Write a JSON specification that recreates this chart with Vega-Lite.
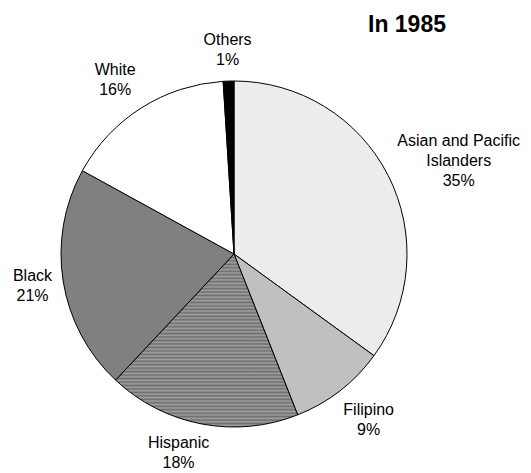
{
  "$schema": "https://vega.github.io/schema/vega-lite/v6.json",
  "autosize": "none",
  "padding": {"left": 0, "top": 40, "right": 63, "bottom": 5},
  "width": 468,
  "height": 428,
  "background": "white",
  "title": {"text": "In 1985", "anchor": "start", "frame": "group", "dx": 368, "dy": 34, "fontSize": 23, "fontWeight": "bold", "font": "Liberation Sans", "color": "black", "offset": 0, "baseline": "alphabetic"},
  "config": {"view": {"stroke": null}},
  "data": {"values": [
    {"group": "Asian and Pacific Islanders", "value": 35, "rank": 1, "label": "Asian and Pacific\nIslanders\n35%"},
    {"group": "Filipino", "value": 9, "rank": 2, "label": "Filipino\n9%"},
    {"group": "Hispanic", "value": 18, "rank": 3, "label": "Hispanic\n18%"},
    {"group": "Black", "value": 21, "rank": 4, "label": "Black\n21%"},
    {"group": "White", "value": 16, "rank": 5, "label": "White\n16%"},
    {"group": "Others", "value": 1, "rank": 6, "label": "Others\n1%"}
  ]},
  "encoding": {
    "theta": {"field": "value", "type": "quantitative", "stack": true},
    "order": {"field": "rank", "type": "quantitative"}
  },
  "layer": [
    {
      "mark": {"type": "arc", "radius": 173, "stroke": "black", "strokeWidth": 1},
      "encoding": {
        "fill": {
          "condition": {"test": "datum.group === 'Hispanic'", "value": {"gradient": "linear", "x1": 0, "y1": 0, "x2": 0, "y2": 1, "stops": [
            {"offset": 0.00, "color": "#6e6e6e"}, {"offset": 0.01, "color": "#a0a0a0"}, {"offset": 0.02, "color": "#6e6e6e"}, {"offset": 0.03, "color": "#a0a0a0"}, {"offset": 0.04, "color": "#6e6e6e"}, {"offset": 0.05, "color": "#a0a0a0"}, {"offset": 0.06, "color": "#6e6e6e"}, {"offset": 0.07, "color": "#a0a0a0"}, {"offset": 0.08, "color": "#6e6e6e"}, {"offset": 0.09, "color": "#a0a0a0"},
            {"offset": 0.10, "color": "#6e6e6e"}, {"offset": 0.11, "color": "#a0a0a0"}, {"offset": 0.12, "color": "#6e6e6e"}, {"offset": 0.13, "color": "#a0a0a0"}, {"offset": 0.14, "color": "#6e6e6e"}, {"offset": 0.15, "color": "#a0a0a0"}, {"offset": 0.16, "color": "#6e6e6e"}, {"offset": 0.17, "color": "#a0a0a0"}, {"offset": 0.18, "color": "#6e6e6e"}, {"offset": 0.19, "color": "#a0a0a0"},
            {"offset": 0.20, "color": "#6e6e6e"}, {"offset": 0.21, "color": "#a0a0a0"}, {"offset": 0.22, "color": "#6e6e6e"}, {"offset": 0.23, "color": "#a0a0a0"}, {"offset": 0.24, "color": "#6e6e6e"}, {"offset": 0.25, "color": "#a0a0a0"}, {"offset": 0.26, "color": "#6e6e6e"}, {"offset": 0.27, "color": "#a0a0a0"}, {"offset": 0.28, "color": "#6e6e6e"}, {"offset": 0.29, "color": "#a0a0a0"},
            {"offset": 0.30, "color": "#6e6e6e"}, {"offset": 0.31, "color": "#a0a0a0"}, {"offset": 0.32, "color": "#6e6e6e"}, {"offset": 0.33, "color": "#a0a0a0"}, {"offset": 0.34, "color": "#6e6e6e"}, {"offset": 0.35, "color": "#a0a0a0"}, {"offset": 0.36, "color": "#6e6e6e"}, {"offset": 0.37, "color": "#a0a0a0"}, {"offset": 0.38, "color": "#6e6e6e"}, {"offset": 0.39, "color": "#a0a0a0"},
            {"offset": 0.40, "color": "#6e6e6e"}, {"offset": 0.41, "color": "#a0a0a0"}, {"offset": 0.42, "color": "#6e6e6e"}, {"offset": 0.43, "color": "#a0a0a0"}, {"offset": 0.44, "color": "#6e6e6e"}, {"offset": 0.45, "color": "#a0a0a0"}, {"offset": 0.46, "color": "#6e6e6e"}, {"offset": 0.47, "color": "#a0a0a0"}, {"offset": 0.48, "color": "#6e6e6e"}, {"offset": 0.49, "color": "#a0a0a0"},
            {"offset": 0.50, "color": "#6e6e6e"}, {"offset": 0.51, "color": "#a0a0a0"}, {"offset": 0.52, "color": "#6e6e6e"}, {"offset": 0.53, "color": "#a0a0a0"}, {"offset": 0.54, "color": "#6e6e6e"}, {"offset": 0.55, "color": "#a0a0a0"}, {"offset": 0.56, "color": "#6e6e6e"}, {"offset": 0.57, "color": "#a0a0a0"}, {"offset": 0.58, "color": "#6e6e6e"}, {"offset": 0.59, "color": "#a0a0a0"},
            {"offset": 0.60, "color": "#6e6e6e"}, {"offset": 0.61, "color": "#a0a0a0"}, {"offset": 0.62, "color": "#6e6e6e"}, {"offset": 0.63, "color": "#a0a0a0"}, {"offset": 0.64, "color": "#6e6e6e"}, {"offset": 0.65, "color": "#a0a0a0"}, {"offset": 0.66, "color": "#6e6e6e"}, {"offset": 0.67, "color": "#a0a0a0"}, {"offset": 0.68, "color": "#6e6e6e"}, {"offset": 0.69, "color": "#a0a0a0"},
            {"offset": 0.70, "color": "#6e6e6e"}, {"offset": 0.71, "color": "#a0a0a0"}, {"offset": 0.72, "color": "#6e6e6e"}, {"offset": 0.73, "color": "#a0a0a0"}, {"offset": 0.74, "color": "#6e6e6e"}, {"offset": 0.75, "color": "#a0a0a0"}, {"offset": 0.76, "color": "#6e6e6e"}, {"offset": 0.77, "color": "#a0a0a0"}, {"offset": 0.78, "color": "#6e6e6e"}, {"offset": 0.79, "color": "#a0a0a0"},
            {"offset": 0.80, "color": "#6e6e6e"}, {"offset": 0.81, "color": "#a0a0a0"}, {"offset": 0.82, "color": "#6e6e6e"}, {"offset": 0.83, "color": "#a0a0a0"}, {"offset": 0.84, "color": "#6e6e6e"}, {"offset": 0.85, "color": "#a0a0a0"}, {"offset": 0.86, "color": "#6e6e6e"}, {"offset": 0.87, "color": "#a0a0a0"}, {"offset": 0.88, "color": "#6e6e6e"}, {"offset": 0.89, "color": "#a0a0a0"},
            {"offset": 0.90, "color": "#6e6e6e"}, {"offset": 0.91, "color": "#a0a0a0"}, {"offset": 0.92, "color": "#6e6e6e"}, {"offset": 0.93, "color": "#a0a0a0"}, {"offset": 0.94, "color": "#6e6e6e"}, {"offset": 0.95, "color": "#a0a0a0"}, {"offset": 0.96, "color": "#6e6e6e"}, {"offset": 0.97, "color": "#a0a0a0"}, {"offset": 0.98, "color": "#6e6e6e"}, {"offset": 0.99, "color": "#a0a0a0"},
            {"offset": 1.00, "color": "#6e6e6e"}
          ]}},
          "field": "group",
          "type": "nominal",
          "scale": {"domain": ["Asian and Pacific Islanders", "Filipino", "Hispanic", "Black", "White", "Others"], "range": ["#ececec", "#c0c0c0", "#878787", "#808080", "#ffffff", "#000000"]},
          "legend": null
        }
      }
    },
    {
      "mark": {"type": "text", "radius": 204, "dy": -10, "font": "Liberation Sans", "fontSize": 16, "lineHeight": 20, "lineBreak": "\n", "align": "center", "baseline": "middle", "color": "black"},
      "encoding": {
        "text": {"field": "label", "type": "nominal"},
        "opacity": {"condition": {"test": "indexof(['Black', 'Others'], datum.group) >= 0", "value": 1}, "value": 0}
      }
    },
    {
      "mark": {"type": "text", "radius": 205, "dx": -9, "dy": -11, "font": "Liberation Sans", "fontSize": 16, "lineHeight": 20, "lineBreak": "\n", "align": "center", "baseline": "middle", "color": "black"},
      "encoding": {
        "text": {"field": "label", "type": "nominal"},
        "opacity": {"condition": {"test": "datum.group === 'White'", "value": 1}, "value": 0}
      }
    },
    {
      "mark": {"type": "text", "radius": 205, "dx": 42, "dy": -20, "font": "Liberation Sans", "fontSize": 16, "lineHeight": 20, "lineBreak": "\n", "align": "center", "baseline": "middle", "color": "black"},
      "encoding": {
        "text": {"field": "label", "type": "nominal"},
        "opacity": {"condition": {"test": "datum.group === 'Asian and Pacific Islanders'", "value": 1}, "value": 0}
      }
    },
    {
      "mark": {"type": "text", "radius": 205, "dx": -17, "dy": -12, "font": "Liberation Sans", "fontSize": 16, "lineHeight": 20, "lineBreak": "\n", "align": "center", "baseline": "middle", "color": "black"},
      "encoding": {
        "text": {"field": "label", "type": "nominal"},
        "opacity": {"condition": {"test": "datum.group === 'Hispanic'", "value": 1}, "value": 0}
      }
    },
    {
      "mark": {"type": "text", "radius": 205, "dx": 9, "dy": -6, "font": "Liberation Sans", "fontSize": 16, "lineHeight": 20, "lineBreak": "\n", "align": "center", "baseline": "middle", "color": "black"},
      "encoding": {
        "text": {"field": "label", "type": "nominal"},
        "opacity": {"condition": {"test": "datum.group === 'Filipino'", "value": 1}, "value": 0}
      }
    }
  ]
}
